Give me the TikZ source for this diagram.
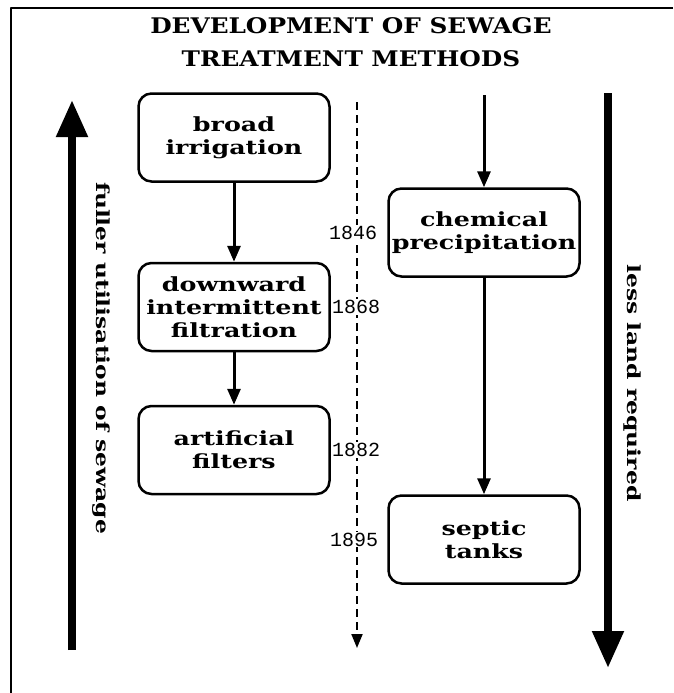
\documentclass[tikz,border=0pt]{standalone}
\usepackage{fontspec}
\usetikzlibrary{arrows.meta}
\newfontfamily\boxfont[FakeStretch=1.3]{DejaVu Serif}
\newfontfamily\titlefont[FakeStretch=1.15]{DejaVu Serif}
\newfontfamily\yearfont{Liberation Mono}
\begin{document}
\begin{tikzpicture}[x=1pt, y=-1pt, line join=round,
	box/.style={draw, line width=2.5pt, rounded corners=13pt, minimum width=191pt, minimum height=88pt, inner sep=0pt, align=center, font=\boxfont\bfseries\fontsize{19.5}{23}\selectfont},
	link/.style={line width=3pt, -{Triangle[width=13pt,length=16pt]}},
	year/.style={fill=white, inner sep=1pt, font=\yearfont\fontsize{20}{20}\selectfont},
	bigarrow/.style={line width=8pt, -{Triangle[width=30pt,length=37pt]}},
	side/.style={rotate=-90, font=\boxfont\bfseries\fontsize{18}{18}\selectfont}]
	\useasboundingbox (0,0) rectangle (673,693);
	% frame
	\draw[line width=2pt] (673,8) -- (11,8) -- (11,693);
	\node[font=\titlefont\bfseries\fontsize{21.5}{33}\selectfont, align=center] (title) at (351,42) {DEVELOPMENT OF SEWAGE\\TREATMENT METHODS};
	% time line
	\coordinate (dtop) at (357,102);
	\coordinate (dend) at (357,648);
	\draw[line width=2pt, dash pattern=on 8pt off 5pt, -{Triangle[width=11pt,length=14pt]}] (dtop) -- (dend);
	% big arrows
	\coordinate (lbot) at (72,650);
	\coordinate (ltop) at (72,100);
	\coordinate (rtop) at (608,93);
	\coordinate (rbot) at (608,668);
	\draw[bigarrow] (lbot) -- (ltop);
	\draw[bigarrow] (rtop) -- (rbot);
	\node[side] (fuller) at (101,358) {fuller utilisation of sewage};
	\node[side] (less) at (632,383) {less land required};
	% methods
	\node[box] (broad) at (234,137.5) {broad\\irrigation};
	\node[box] (downward) at (234,307) {downward\\intermittent\\filtration};
	\node[box] (artificial) at (234,450) {artificial\\filters};
	\node[box] (chemical) at (484,232.5) {chemical\\precipitation};
	\node[box] (septic) at (484,539.5) {septic\\tanks};
	\coordinate (chemtop) at (484,95);
	\draw[link] (broad) -- (downward);
	\draw[link] (downward) -- (artificial);
	\draw[link] (chemtop) -- (chemical);
	\draw[link] (chemical) -- (septic);
	% years
	\node[year] (y1846) at (353,232.5) {1846};
	\node[year] (y1868) at (356,307) {1868};
	\node[year] (y1882) at (356,450) {1882};
	\node[year] (y1895) at (354,539.5) {1895};
\end{tikzpicture}
\end{document}
